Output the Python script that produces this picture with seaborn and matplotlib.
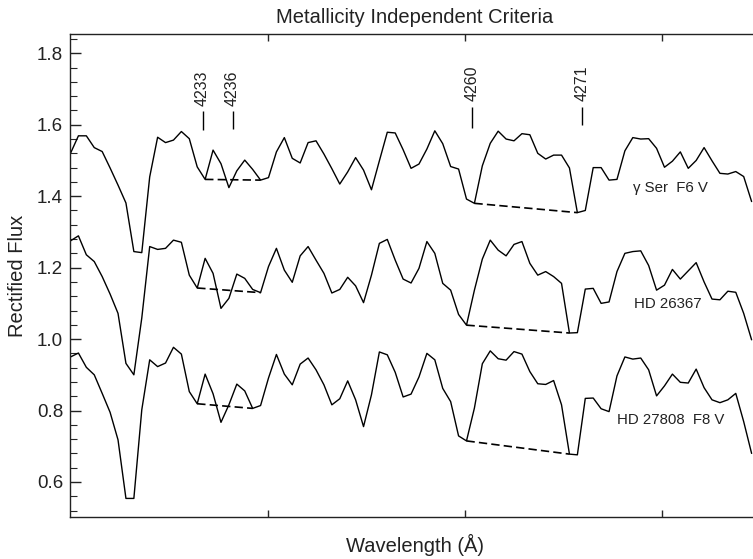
import numpy as np
import pandas as pd
import matplotlib
matplotlib.use("Agg")
import matplotlib.pyplot as plt
import seaborn as sns
from matplotlib.ticker import MultipleLocator

# ---------------- data ----------------
wl_start, wl_end, n_pts = 4219.78, 4287.94, 87
wavelength = np.linspace(wl_start, wl_end, n_pts)

flux_gamma_ser = [1.520, 1.569, 1.569, 1.536, 1.525, 1.479, 1.431, 1.381, 1.245, 1.242,
                  1.454, 1.565, 1.550, 1.557, 1.581, 1.561, 1.482, 1.447, 1.529, 1.491,
                  1.424, 1.471, 1.501, 1.475, 1.445, 1.452, 1.524, 1.564, 1.506, 1.493,
                  1.550, 1.555, 1.518, 1.477, 1.434, 1.468, 1.508, 1.473, 1.418, 1.499,
                  1.579, 1.577, 1.530, 1.478, 1.490, 1.532, 1.583, 1.547, 1.483, 1.476,
                  1.392, 1.380, 1.485, 1.548, 1.582, 1.560, 1.555, 1.575, 1.572, 1.520,
                  1.504, 1.515, 1.515, 1.479, 1.354, 1.360, 1.480, 1.480, 1.445, 1.447,
                  1.527, 1.564, 1.560, 1.561, 1.534, 1.481, 1.498, 1.524, 1.478, 1.500,
                  1.536, 1.499, 1.464, 1.462, 1.469, 1.455, 1.385]

flux_hd26367 = [1.275, 1.289, 1.236, 1.217, 1.175, 1.126, 1.072, 0.932, 0.900, 1.059,
                1.259, 1.251, 1.254, 1.277, 1.271, 1.179, 1.143, 1.226, 1.184, 1.086,
                1.114, 1.182, 1.170, 1.139, 1.130, 1.203, 1.254, 1.193, 1.159, 1.233,
                1.259, 1.221, 1.184, 1.129, 1.139, 1.173, 1.149, 1.102, 1.179, 1.268,
                1.279, 1.221, 1.168, 1.157, 1.198, 1.273, 1.240, 1.156, 1.137, 1.069,
                1.039, 1.137, 1.224, 1.277, 1.249, 1.233, 1.265, 1.273, 1.212, 1.179,
                1.189, 1.175, 1.156, 1.017, 1.018, 1.140, 1.142, 1.100, 1.104, 1.189,
                1.240, 1.245, 1.247, 1.206, 1.137, 1.151, 1.195, 1.168, 1.191, 1.214,
                1.160, 1.112, 1.110, 1.134, 1.131, 1.072, 0.998]

flux_hd27808 = [0.950, 0.961, 0.921, 0.900, 0.848, 0.795, 0.718, 0.554, 0.554, 0.802,
                0.942, 0.923, 0.933, 0.977, 0.958, 0.853, 0.819, 0.902, 0.847, 0.767,
                0.816, 0.874, 0.855, 0.806, 0.814, 0.891, 0.957, 0.902, 0.872, 0.930,
                0.947, 0.914, 0.872, 0.816, 0.833, 0.883, 0.830, 0.755, 0.844, 0.964,
                0.956, 0.907, 0.838, 0.846, 0.894, 0.960, 0.942, 0.862, 0.825, 0.729,
                0.715, 0.807, 0.931, 0.967, 0.945, 0.941, 0.965, 0.958, 0.909, 0.875,
                0.873, 0.884, 0.816, 0.678, 0.676, 0.834, 0.835, 0.805, 0.797, 0.897,
                0.950, 0.944, 0.947, 0.914, 0.841, 0.869, 0.902, 0.879, 0.877, 0.916,
                0.864, 0.830, 0.822, 0.830, 0.848, 0.769, 0.680]

star_names = ["γ Ser  F6 V", "HD 26367", "HD 27808  F8 V"]

# continuum (dashed) segments as sample-index pairs for each star
continuum_gamma_ser = [(17, 24), (51, 64)]
continuum_hd26367 = [(16, 24), (50, 63)]
continuum_hd27808 = [(16, 23), (50, 63)]

# label anchors (wavelength, flux at baseline)
label_wl = [4276.07, 4276.17, 4274.47]
label_flux = [1.412, 1.088, 0.763]

# line identifications
line_ids = [4233, 4236, 4260, 4271]
line_bottom = [1.585, 1.588, 1.591, 1.599]
line_top = [1.638, 1.638, 1.650, 1.650]

x_ticks = [4239.5, 4259.3, 4279.0]
y_ticks = [0.6, 0.8, 1.0, 1.2, 1.4, 1.6, 1.8]
x_limits = (4219.73, 4288.78)
y_limits = (0.502, 1.854)

# ---------------- plot ----------------
sns.set_style("ticks")
plt.rcParams["font.family"] = ["Liberation Sans", "DejaVu Sans"]

fig = plt.figure(figsize=(7.53, 5.59), dpi=100)
ax = fig.add_axes([70 / 753, 42 / 559, 690 / 753, 483 / 559])

fluxes = [flux_gamma_ser, flux_hd26367, flux_hd27808]
df = pd.concat([
    pd.DataFrame({"wavelength": wavelength, "flux": f, "star": s})
    for f, s in zip(fluxes, star_names)
], ignore_index=True)

sns.lineplot(data=df, x="wavelength", y="flux", units="star", estimator=None,
             sort=False, color="black", linewidth=1.0, ax=ax, legend=False)

for f, segs in zip(fluxes, [continuum_gamma_ser, continuum_hd26367, continuum_hd27808]):
    for a, b in segs:
        ax.plot([wavelength[a], wavelength[b]], [f[a], f[b]], color="black",
                linewidth=1.2, linestyle=(0, (5, 2.5)))

for s, xw, yf in zip(star_names, label_wl, label_flux):
    ax.text(xw, yf, s, fontsize=10.8, ha="left", va="baseline", color="#222222")

ax.vlines(line_ids, line_bottom, line_top, color="black", linewidth=1.0)
for w, t in zip(line_ids, line_top):
    ax.annotate(str(w), xy=(w, t), xytext=(0, 4), textcoords="offset points",
                rotation=90, ha="center", va="bottom", fontsize=11.5, color="#222222")

ax.set_xlim(*x_limits)
ax.set_ylim(*y_limits)
ax.set_xticks(x_ticks)
ax.set_yticks(y_ticks)
ax.yaxis.set_minor_locator(MultipleLocator(0.04))
ax.tick_params(axis="x", which="both", direction="in", top=True, bottom=True,
               length=5, width=1, labelbottom=False)
ax.tick_params(axis="y", which="major", direction="in", left=True, right=False,
               length=8, width=1, labelsize=13.5, pad=5, colors="#222222")
ax.tick_params(axis="y", which="minor", direction="in", left=True, right=False,
               length=5, width=0.8)
for sp in ax.spines.values():
    sp.set_linewidth(1.0)
    sp.set_color("#222222")

ax.set_title("Metallicity Independent Criteria", fontsize=14.5, pad=8, color="#222222")
ax.set_xlabel("Wavelength (Å)", fontsize=14.5, color="#222222")
ax.set_ylabel("Rectified Flux", fontsize=14.5, color="#222222")
ax.xaxis.set_label_coords(0.5, -0.035)
ax.yaxis.set_label_coords(-0.062, 0.5)

fig.savefig("out.png", dpi=100)
